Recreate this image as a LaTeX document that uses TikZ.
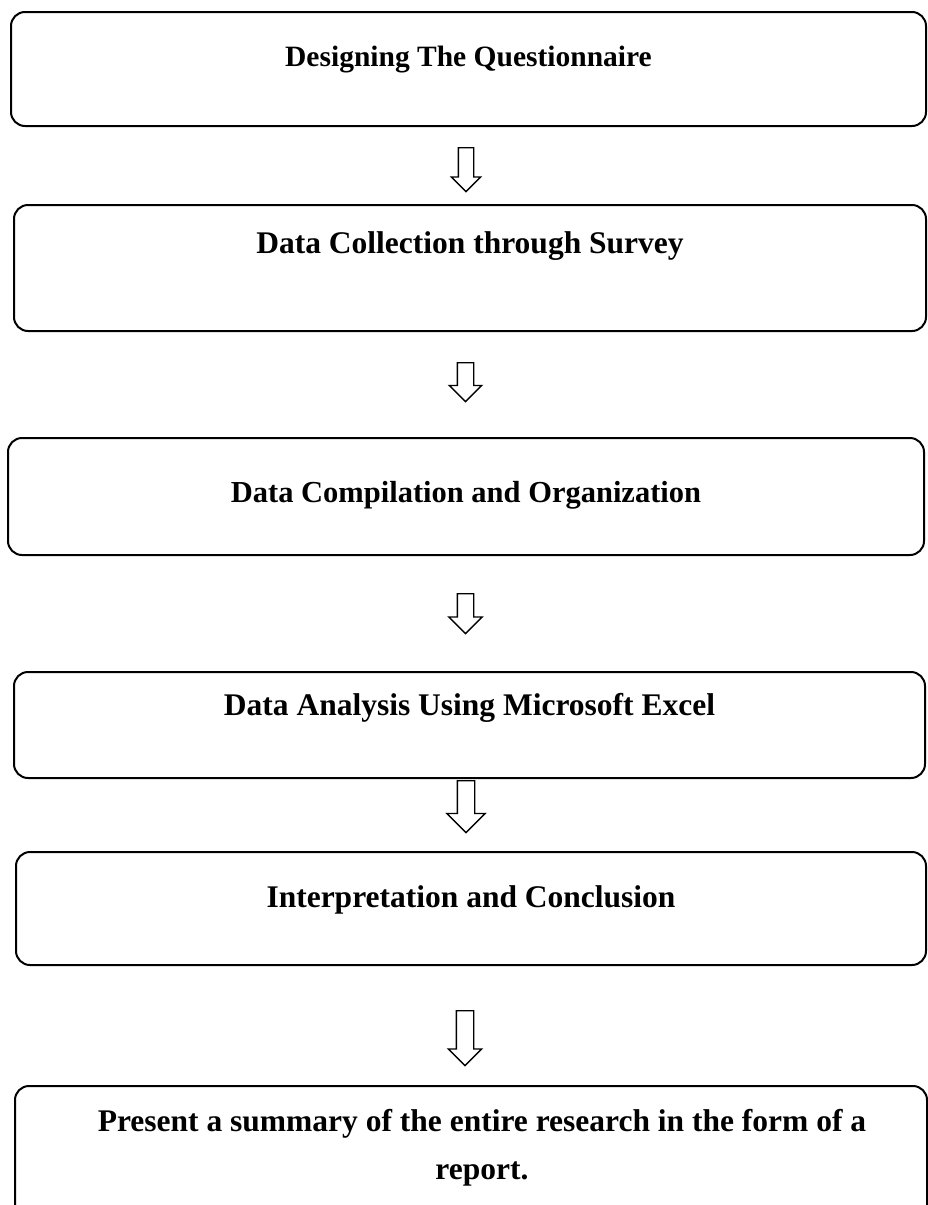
\documentclass[tikz,border=0pt]{standalone}
\usepackage{fontspec}
\setmainfont{Liberation Serif}
\usetikzlibrary{shapes.arrows,positioning}

\begin{document}
\begin{tikzpicture}
  [x=1pt,y=-1pt,
   stepbox/.style={draw,rounded corners=14pt,line width=2pt},
   steptext/.style={font=\bfseries\fontsize{31.5}{48}\selectfont,align=center,inner sep=0pt},
   flowarrow/.style={single arrow,draw,line width=1.4pt,rotate=-90,anchor=tail,
                     inner sep=0pt,minimum width=0pt,single arrow tip angle=90}]

  \useasboundingbox (0,0) rectangle (927,1205);

  % boxes
  \node[stepbox,minimum width=915pt,minimum height=114pt] (b1) at (468.5,69)   {};
  \node[stepbox,minimum width=912pt,minimum height=126pt] (b2) at (470,268)    {};
  \node[stepbox,minimum width=916pt,minimum height=117pt] (b3) at (466,496.5)  {};
  \node[stepbox,minimum width=911pt,minimum height=106pt] (b4) at (469.5,725)  {};
  \node[stepbox,minimum width=910pt,minimum height=113pt] (b5) at (471,908.5)  {};
  \node[stepbox,minimum width=912pt,minimum height=150pt] (b6) at (471,1161)   {};

  % texts
  \node[steptext,below=35pt of b1.north,font=\bfseries\fontsize{29.5}{44}\selectfont] (t1) {Designing The Questionnaire};
  \node[steptext,below=27pt of b2.north] (t2) {Data Collection through Survey};
  \node[steptext,below=44pt of b3.north,font=\bfseries\fontsize{30.5}{46}\selectfont] (t3) {Data Compilation and Organization};
  \node[steptext,below=22pt of b4.north] (t4) {Data Analysis Using Microsoft Excel};
  \node[steptext,below=34pt of b5.north] (t5) {Interpretation and Conclusion};
  \node[steptext,below=24pt of b6.north,xshift=11pt] (t6)
    {Present a summary of the entire research in the form of a\\ report.};

  % arrows
  \node[flowarrow,inner ysep=7pt,minimum height=44pt,single arrow head extend=7pt]   (a1) at (466,147)  {};
  \node[flowarrow,inner ysep=7.5pt,minimum height=39pt,single arrow head extend=8pt] (a2) at (465.5,362) {};
  \node[flowarrow,inner ysep=7.5pt,minimum height=40pt,single arrow head extend=8.5pt] (a3) at (465.5,593) {};
  \node[flowarrow,inner ysep=8pt,minimum height=52pt,single arrow head extend=10.5pt] (a4) at (466,780)   {};
  \node[flowarrow,inner ysep=8pt,minimum height=55pt,single arrow head extend=8pt]   (a5) at (465,1010)  {};
\end{tikzpicture}
\end{document}
